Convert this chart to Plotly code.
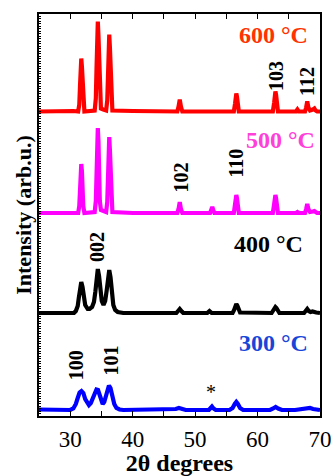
import plotly.graph_objects as go

# XRD patterns of ZnO films annealed at different temperatures.
# Each pattern is a list of (2theta, relative intensity) vertices; patterns are
# stacked vertically by a fixed offset.

RED_X = [25, 27, 29, 30.5, 31.27, 31.45, 31.57, 31.67, 31.77, 31.87, 31.97, 32.09, 32.27,
         33.92, 34.1, 34.22, 34.32, 34.42, 34.52, 34.62, 34.74, 34.92, 35.3,
         35.75, 35.93, 36.05, 36.15, 36.25, 36.35, 36.45, 36.57, 36.75, 40, 44,
         47.15, 47.35, 47.54, 47.73, 47.95, 52,
         56.2, 56.4, 56.5, 56.6, 56.7, 56.8, 57.0, 60,
         62.45, 62.66, 62.76, 62.86, 62.96, 63.06, 63.27,
         66.15, 66.38, 66.6, 67.6, 67.78, 67.96, 68.14, 68.4,
         68.85, 69.1, 69.3, 69.55, 70]
RED_Y = [1, 1.5, 1, 1.5, 1, 8, 27, 46, 54, 46, 27, 8, 1,
         2, 14, 46, 77, 91, 77, 46, 14, 4, 3,
         2, 12, 39, 66, 78, 66, 39, 12, 2, 1.5, 1,
         1, 6, 13, 6, 1, 1,
         1, 9, 16, 19, 16, 9, 1, 1,
         1, 10, 18, 21, 18, 10, 1,
         1, 3, 1, 1, 5, 11, 5, 2,
         3, 4, 2, 1, 1]

PINK_X = [25, 29, 31.27, 31.45, 31.57, 31.67, 31.77, 31.87, 31.97, 32.09, 32.27,
          33.92, 34.1, 34.22, 34.32, 34.42, 34.52, 34.62, 34.74, 34.92, 35.3,
          35.75, 35.93, 36.05, 36.15, 36.25, 36.35, 36.45, 36.57, 36.75, 40,
          47.15, 47.35, 47.54, 47.73, 47.95,
          52.4, 52.6, 52.75, 52.9, 53.1,
          56.2, 56.4, 56.5, 56.6, 56.7, 56.8, 57.0,
          62.45, 62.66, 62.76, 62.86, 62.96, 63.06, 63.27,
          66.15, 66.38, 66.6, 67.6, 67.78, 67.96, 68.14, 68.4,
          68.85, 69.1, 69.3, 69.55, 70]
PINK_Y = [1, 1, 1, 8, 25, 43, 50, 43, 25, 8, 1,
          2, 13, 43, 73, 86, 73, 43, 13, 4, 3,
          2, 12, 38, 65, 77, 65, 38, 12, 2, 1,
          1, 5, 12, 5, 1,
          1, 4, 7, 4, 1,
          1, 9, 16, 19, 16, 9, 1,
          1, 9, 16, 19, 16, 9, 1,
          1, 2, 1, 1, 5, 10, 5, 2,
          2.5, 3, 2, 1, 1]

BLACK_X = [25, 29, 30.6, 30.9, 31.2, 31.37, 31.57, 31.77, 31.97, 32.17, 32.4, 32.8,
           33.1, 33.5, 33.8, 34.02, 34.22, 34.42, 34.62, 34.82, 35.05, 35.33,
           35.6, 35.85, 36.05, 36.25, 36.45, 36.65, 36.9, 37.2, 37.6, 38.5,
           47.0, 47.2, 47.54, 47.88, 48.1,
           51.95, 52.3, 52.65,
           56.0, 56.25, 56.45, 56.6, 56.75, 56.95, 57.2,
           62.25, 62.5, 62.7, 62.86, 63.02, 63.22, 63.5,
           66.1, 66.38, 66.65, 67.45, 67.7, 67.96, 68.2, 68.5,
           68.8, 69.1, 69.4, 70]
BLACK_Y = [1, 1, 1, 3, 8, 16, 27, 32, 27, 16, 9, 5,
           5, 7, 12, 22, 38, 45, 38, 24, 13, 9,
           13, 24, 37, 44, 37, 22, 9, 4, 2, 1,
           1, 2.5, 5, 2.5, 1,
           1, 3, 1,
           1, 4, 8.5, 10, 8.5, 4, 1.5,
           1, 3, 6, 7, 6, 3, 1,
           1, 1.5, 1, 1, 3, 5, 3, 2,
           2.5, 2.5, 1.5, 1]

BLUE_X = [25, 28, 30.0, 30.5, 30.9, 31.2, 31.5, 31.8, 32.1, 32.4, 32.7,
          33.0, 33.3, 33.6, 33.9, 34.2, 34.45, 34.75, 35.0, 35.2,
          35.45, 35.7, 35.95, 36.2, 36.45, 36.75, 37.05, 37.4, 37.9, 38.5,
          40, 46.3, 46.9, 47.4, 47.9, 48.5,
          52.2, 52.45, 52.7, 52.95, 53.3,
          55.5, 56.0, 56.35, 56.6, 56.85, 57.2, 57.7,
          62.0, 62.5, 62.9, 63.3, 63.9,
          66.0, 66.5, 67.4, 67.9, 68.4, 68.9, 69.4, 70]
BLUE_Y = [1.5, 1, 1, 2.5, 7, 13, 18.5, 20, 18, 12, 8,
          6, 8, 13, 18.5, 21.5, 21, 15, 9, 7,
          9, 16, 23, 25.5, 23, 15, 7, 3, 1.5, 1,
          1, 1, 2, 3, 2.5, 1,
          1, 2.5, 4.5, 2.5, 1,
          1, 3, 7, 9, 7, 3, 1,
          1, 2.5, 4, 2.5, 1,
          1, 1.5, 2, 3.5, 3, 2, 1.5, 1]

SERIES_NAMES = ["300 °C", "400 °C", "500 °C", "600 °C"]
SERIES_X = [BLUE_X, BLACK_X, PINK_X, RED_X]
SERIES_Y = [BLUE_Y, BLACK_Y, PINK_Y, RED_Y]
OFFSETS = [5, 102, 202, 303.5]

LINE_COLORS = ["#0000ff", "#000000", "#ff00ff", "#ff0000"]
LABEL_COLORS = ["#1745d8", "#000000", "#ff40d8", "#ff3300"]

# Miller indices and the 2theta position / height at which each is written
HKL_TEXT = ["100", "101", "002", "102", "110", "103", "112"]
HKL_X = [30.9, 36.6, 34.2, 47.6, 56.4, 62.95, 67.9]
HKL_Y = [50.5, 56, 169.5, 238.5, 252.5, 340, 335]

SERIF = "Times New Roman, Liberation Serif, serif"

fig = go.Figure()
for name, xs, ys, off, col in zip(SERIES_NAMES, SERIES_X, SERIES_Y, OFFSETS, LINE_COLORS):
    fig.add_trace(go.Scatter(
        x=xs, y=[v + off for v in ys], mode="lines", name=name,
        line=dict(color=col, width=4.2), showlegend=False, hoverinfo="skip",
    ))

# temperature labels, right-aligned near the right edge
temp_label_pos = [(68.4, 73.5), (67.6, 172.5), (69.5, 276), (68.4, 381)]
for name, col, (lx, ly) in zip(SERIES_NAMES, LABEL_COLORS, temp_label_pos):
    fig.add_annotation(x=lx, y=ly, text="<b>" + name + "</b>", showarrow=False,
                       xanchor="right", yanchor="middle",
                       font=dict(family=SERIF, size=24, color=col))

for t, hx, hy in zip(HKL_TEXT, HKL_X, HKL_Y):
    fig.add_annotation(x=hx, y=hy, text="<b>" + t + "</b>", textangle=-90,
                       showarrow=False, xanchor="center", yanchor="middle",
                       font=dict(family=SERIF, size=20, color="#000000"))

# impurity marker
fig.add_annotation(x=52.5, y=24, text="*", showarrow=False, xanchor="center",
                   yanchor="middle", font=dict(family=SERIF, size=20, color="#000000"))

fig.update_layout(
    width=335, height=476,
    margin=dict(l=39, r=15, t=14, b=60, autoexpand=False),
    paper_bgcolor="white", plot_bgcolor="white",
    xaxis=dict(
        range=[25, 70], tickmode="array", automargin=False,
        tickvals=[25, 30, 35, 40, 45, 50, 55, 60, 65, 70],
        ticktext=["", "30", "", "40", "", "50", "", "60", "", "70"],
        ticks="inside", ticklen=5, tickwidth=1.2, tickcolor="black",
        showline=True, linecolor="black", linewidth=1.6, mirror="ticks",
        showgrid=False, zeroline=False, ticklabelstandoff=2,
        tickfont=dict(family=SERIF, size=23, color="black"),
        title=dict(text="<b>2θ degrees</b>", standoff=0,
                   font=dict(family=SERIF, size=24, color="black")),
    ),
    yaxis=dict(
        range=[0, 402], dtick=2.5, tick0=0, automargin=False,
        ticks="inside", ticklen=2, tickwidth=1, tickcolor="black",
        showticklabels=False,
        showline=True, linecolor="black", linewidth=1.6, mirror=True,
        showgrid=False, zeroline=False,
        title=dict(text="<b>Intensity (arb.u.)</b>", standoff=0,
                   font=dict(family=SERIF, size=22, color="black")),
    ),
)

fig.write_html("out.html")
